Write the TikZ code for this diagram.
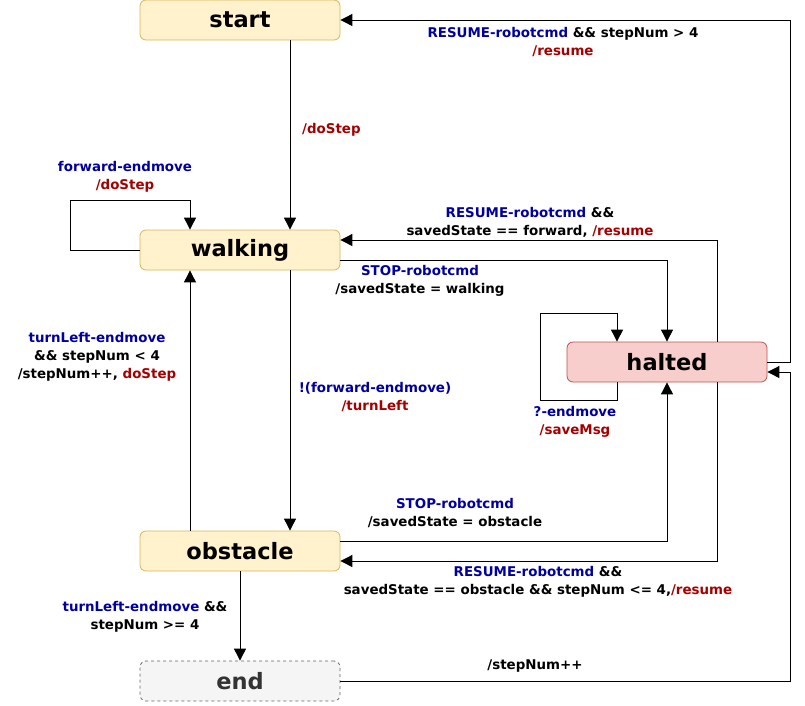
\documentclass[tikz,border=0pt]{standalone}
\usepackage{fontspec}
\setmainfont{DejaVu Sans}
\usetikzlibrary{arrows.meta}
\definecolor{tblue}{RGB}{0,0,160}
\definecolor{tred}{RGB}{165,0,0}
\definecolor{yfill}{HTML}{FFF2CC}
\definecolor{ydraw}{HTML}{D6B656}
\definecolor{rfill}{HTML}{F8CECC}
\definecolor{rdraw}{HTML}{B85450}
\definecolor{gfill}{HTML}{F5F5F5}
\definecolor{gdraw}{HTML}{666666}
\newcommand\tb[1]{\textcolor{tblue}{#1}}
\newcommand\tr[1]{\textcolor{tred}{#1}}
\begin{document}
\begin{tikzpicture}[x=1pt,y=-1pt,
  state/.style={rectangle, rounded corners=6pt, minimum width=200pt, minimum height=40pt, inner sep=0pt, line width=0.8pt, font=\fontsize{22.5}{26}\selectfont\bfseries},
  ystate/.style={state, fill=yfill, draw=ydraw},
  rstate/.style={state, fill=rfill, draw=rdraw},
  gstate/.style={state, fill=gfill, draw=gdraw, dashed, text=black!80},
  arr/.style={-{Triangle[length=12pt,width=12pt]}, line width=0.9pt},
  lbl/.style={font=\fontsize{13.4}{18}\selectfont\bfseries, align=center, inner sep=0pt}]
\useasboundingbox (0,0) rectangle (805,705);
\node[ystate] (start) at (240,20) {start};
\node[ystate] (walking) at (240,250) {walking};
\node[ystate] (obstacle) at (240,551) {obstacle};
\node[gstate] (end) at (240,681) {end};
\node[rstate] (halted) at (667,362) {halted};

\draw[arr] ([xshift=50pt]start.south) -- ([xshift=50pt]walking.north);
\draw[arr] (walking.west) -| (70,200) -| ([xshift=-50pt]walking.north);
\draw[arr] ([xshift=50pt]walking.south) -- ([xshift=50pt]obstacle.north);
\draw[arr] ([xshift=-50pt]obstacle.north) -- ([xshift=-50pt]walking.south);
\draw[arr] (obstacle.south) -- (end.north);
\draw[arr] (end.east) -| (790,372) -- ([yshift=-10pt]halted.east);
\draw[arr] (halted.east) -- (790,362) |- (start.east);
\draw[arr] ([xshift=50pt]halted.north) |- ([yshift=10pt]walking.east);
\draw[arr] ([yshift=-10pt]walking.east) -| (halted.north);
\draw[arr] ([xshift=-50pt]halted.south) |- (540,400) |- (617,313) -- ([xshift=-50pt]halted.north);
\draw[arr] ([yshift=10pt]obstacle.east) -| (halted.south);
\draw[arr] ([xshift=50pt]halted.south) |- ([yshift=-10pt]obstacle.east);

\node[lbl, anchor=west] (l1) at (302,130) {\tr{/doStep}};
\node[lbl] (l2) at (125,177) {\tb{forward-endmove}\\\tr{/doStep}};
\node[lbl] (l3) at (375,397) {\tb{!(forward-endmove)}\\\tr{/turnLeft}};
\node[lbl] (l4) at (97,357) {\tb{turnLeft-endmove}\\\&\& stepNum < 4\\/stepNum++, \tr{doStep}};
\node[lbl] (l5) at (145,617) {\tb{turnLeft-endmove} \&\&\\stepNum >= 4};
\node[lbl] (l6) at (535,666) {/stepNum++};
\node[lbl] (l7) at (563,42) {\tb{RESUME-robotcmd} \&\& stepNum > 4\\\tr{/resume}};
\node[lbl] (l8) at (530,222) {\tb{RESUME-robotcmd} \&\&\\savedState == forward, \tr{/resume}};
\node[lbl] (l9) at (420,281) {\tb{STOP-robotcmd}\\/savedState = walking};
\node[lbl] (l10) at (575,422) {\tb{?-endmove}\\\tr{/saveMsg}};
\node[lbl] (l11) at (455,513) {\tb{STOP-robotcmd}\\/savedState = obstacle};
\node[lbl] (l12) at (538,582) {\tb{RESUME-robotcmd} \&\&\\savedState == obstacle \&\& stepNum <= 4,\tr{/resume}};
\end{tikzpicture}
\end{document}
